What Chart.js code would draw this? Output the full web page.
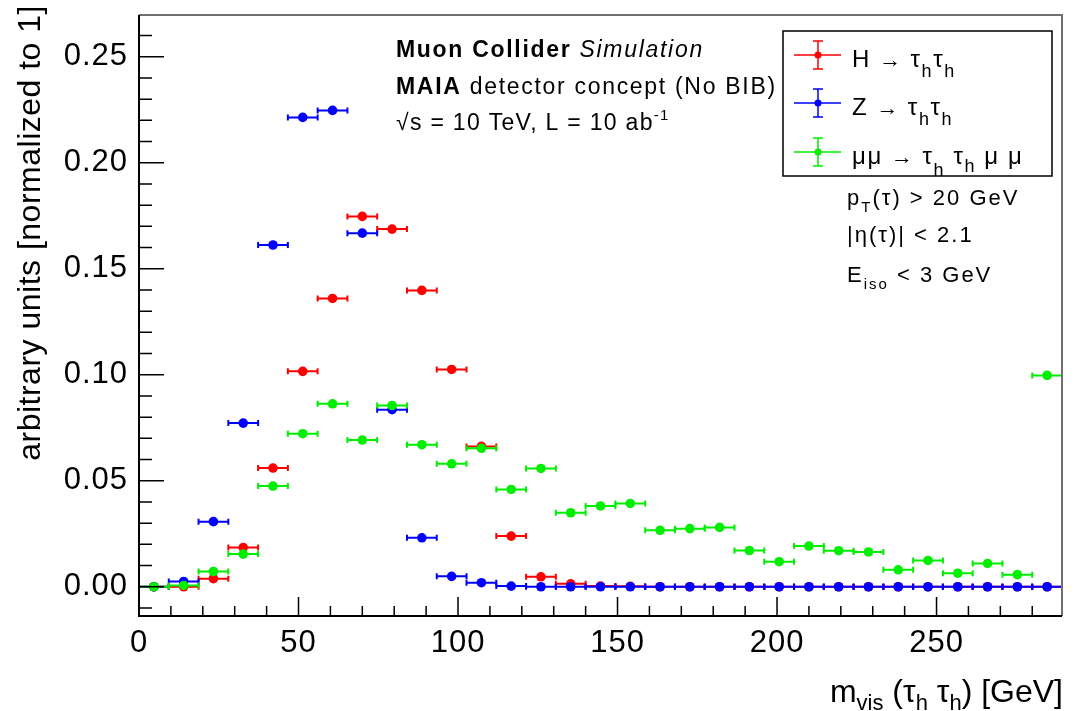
<!DOCTYPE html>
<html>
<head>
<meta charset="utf-8">
<script src="https://cdn.jsdelivr.net/npm/chart.js@4.4.1/dist/chart.umd.min.js"></script>
<style>
  html, body { margin: 0; padding: 0; background: #ffffff; }
  #wrap { width: 1079px; height: 711px; position: relative; }
</style>
</head>
<body>
<div id="wrap"><canvas id="grafico"></canvas></div>
<script>
// bin centres of the m_vis histogram [GeV]
const binCenters = [4.67, 14.00, 23.33, 32.67, 42.00, 51.33, 60.67, 70.00, 79.33, 88.67,
  98.00, 107.33, 116.67, 126.00, 135.33, 144.67, 154.00, 163.33, 172.67, 182.00,
  191.33, 200.67, 210.00, 219.33, 228.67, 238.00, 247.33, 256.67, 266.00, 275.33, 284.67];
const binHalfWidth = 4.667;

const valoresH = [0, 0, 0.0038, 0.0185, 0.0560, 0.1016, 0.1360, 0.1747, 0.1687, 0.1398,
  0.1025, 0.0662, 0.0239, 0.0047, 0.0014, 0.0003, 0.0002, 0, 0, 0,
  0, 0, 0, 0, 0, 0, 0, 0, 0, 0, 0];
const valoresZ = [0, 0.0025, 0.0307, 0.0772, 0.1612, 0.2214, 0.2247, 0.1668, 0.0835, 0.0231,
  0.0049, 0.0019, 0.0003, 0, 0, 0, 0, 0, 0, 0,
  0, 0, 0, 0, 0, 0, 0, 0, 0, 0, 0];
const valoresMuMu = [0, 0.0006, 0.0072, 0.0154, 0.0475, 0.0722, 0.0863, 0.0692, 0.0855, 0.0670,
  0.0580, 0.0653, 0.0459, 0.0558, 0.0349, 0.0381, 0.0393, 0.0266, 0.0274, 0.0280,
  0.0171, 0.0118, 0.0192, 0.0170, 0.0164, 0.0080, 0.0124, 0.0064, 0.0110, 0.0057, 0.0997];

const xTicks = [0, 50, 100, 150, 200, 250];
const yTicks = [0, 0.05, 0.10, 0.15, 0.20, 0.25];
const colores = ["#ff0000", "#0000ff", "#00ee00"];

const FAM = "'Liberation Sans', Arial, sans-serif";

function puntos(vals) {
  return binCenters.map((x, i) => ({ x: x, y: vals[i] }));
}

// draws a line of text made of pieces (sub/superscripts, bold, italic)
function textoRico(ctx, x, y, partes, align, ls) {
  ctx.letterSpacing = (ls || 0) + "px";
  let total = 0;
  partes.forEach(p => {
    ctx.font = (p.st || "") + " " + p.sz + "px " + FAM;
    total += ctx.measureText(p.t).width;
  });
  let cx = align === "right" ? x - total : x;
  ctx.textAlign = "left";
  ctx.textBaseline = "alphabetic";
  partes.forEach(p => {
    ctx.font = (p.st || "") + " " + p.sz + "px " + FAM;
    ctx.fillText(p.t, cx, y + (p.dy || 0));
    cx += ctx.measureText(p.t).width;
  });
}

const barrasError = {
  id: "barrasError",
  beforeDatasetDraw(chart, args) {
    const ctx = chart.ctx;
    const ds = chart.data.datasets[args.index];
    const xs = chart.scales.x, ys = chart.scales.y;
    const a = chart.chartArea;
    ctx.save();
    ctx.beginPath();
    ctx.rect(a.left, a.top, a.right - a.left, a.bottom - a.top);
    ctx.clip();
    ctx.strokeStyle = ds.backgroundColor;
    ctx.lineWidth = 2;
    ds.data.forEach(p => {
      const x1 = xs.getPixelForValue(p.x - binHalfWidth);
      const x2 = xs.getPixelForValue(p.x + binHalfWidth);
      const y = ys.getPixelForValue(p.y);
      ctx.beginPath();
      ctx.moveTo(x1, y); ctx.lineTo(x2, y);
      ctx.moveTo(x1, y - 3); ctx.lineTo(x1, y + 3);
      ctx.moveTo(x2, y - 3); ctx.lineTo(x2, y + 3);
      ctx.stroke();
    });
    ctx.restore();
  }
};

const marco = {
  id: "marco",
  beforeDraw(chart) {
    chart.ctx.letterSpacing = "1px";
  },
  afterDraw(chart) {
    const ctx = chart.ctx;
    const a = chart.chartArea;
    const xs = chart.scales.x, ys = chart.scales.y;
    ctx.save();

    // frame
    ctx.lineWidth = 2;
    ctx.strokeStyle = "#707070";
    ctx.beginPath();
    ctx.moveTo(a.left, a.top); ctx.lineTo(a.right, a.top); ctx.lineTo(a.right, a.bottom);
    ctx.stroke();
    ctx.strokeStyle = "#000000";
    ctx.beginPath();
    ctx.moveTo(a.left, a.top); ctx.lineTo(a.left, a.bottom); ctx.lineTo(a.right, a.bottom);
    ctx.stroke();

    // inward ticks
    ctx.lineWidth = 1.5;
    ctx.beginPath();
    for (let v = 0; v <= 285; v += 10) {
      const px = xs.getPixelForValue(v);
      const len = v % 50 === 0 ? 19 : 10;
      ctx.moveTo(px, a.bottom); ctx.lineTo(px, a.bottom - len);
    }
    for (let k = -1; k <= 26; k++) {
      const py = ys.getPixelForValue(k / 100);
      const len = k % 5 === 0 ? 25 : 13;
      ctx.moveTo(a.left, py); ctx.lineTo(a.left + len, py);
    }
    ctx.stroke();

    ctx.fillStyle = "#000000";

    // axis titles
    textoRico(ctx, 1063, 702, [
      { t: "m", sz: 32 }, { t: "vis", sz: 22, dy: 8 },
      { t: " (τ", sz: 32 }, { t: "h", sz: 22, dy: 8 },
      { t: " τ", sz: 32 }, { t: "h", sz: 22, dy: 8 },
      { t: ") [GeV]", sz: 32 }
    ], "right", 0);
    ctx.save();
    ctx.translate(40, 5);
    ctx.rotate(-Math.PI / 2);
    textoRico(ctx, 0, 0, [{ t: "arbitrary units [normalized to 1]", sz: 32 }], "right", 0.5);
    ctx.restore();

    // labels
    textoRico(ctx, 396, 57, [
      { t: "Muon Collider ", sz: 23, st: "bold" }, { t: "Simulation", sz: 23, st: "italic" }
    ], "left", 1.7);
    textoRico(ctx, 396, 94, [
      { t: "MAIA", sz: 23, st: "bold" }, { t: " detector concept (No BIB)", sz: 23 }
    ], "left", 1.7);
    textoRico(ctx, 396, 130, [
      { t: "√s = 10 TeV, L = 10 ab", sz: 23 }, { t: "-1", sz: 15, dy: -10 }
    ], "left", 1.3);

    textoRico(ctx, 847, 205, [
      { t: "p", sz: 22 }, { t: "T", sz: 15, dy: 7 }, { t: "(τ) > 20 GeV", sz: 22 }
    ], "left", 2);
    textoRico(ctx, 847, 242, [{ t: "|η(τ)| < 2.1", sz: 22 }], "left", 2);
    textoRico(ctx, 847, 282, [
      { t: "E", sz: 22 }, { t: "iso", sz: 15, dy: 7 }, { t: " < 3 GeV", sz: 22 }
    ], "left", 2);

    // legend
    ctx.fillStyle = "#ffffff";
    ctx.fillRect(783, 31, 269, 145);
    ctx.strokeStyle = "#000000";
    ctx.lineWidth = 1.5;
    ctx.strokeRect(783, 31, 269, 145);
    const filas = [55, 103, 152];
    const textos = [
      [{ t: "H ", sz: 24 }, { t: "→ ", sz: 22 }, { t: "τ", sz: 24 }, { t: "h", sz: 18, dy: 10 }, { t: "τ", sz: 24 }, { t: "h", sz: 18, dy: 10 }],
      [{ t: "Z ", sz: 24 }, { t: "→ ", sz: 22 }, { t: "τ", sz: 24 }, { t: "h", sz: 18, dy: 10 }, { t: "τ", sz: 24 }, { t: "h", sz: 18, dy: 10 }],
      [{ t: "μμ ", sz: 24 }, { t: "→ ", sz: 22 }, { t: "τ", sz: 24 }, { t: "h", sz: 18, dy: 12 }, { t: " τ", sz: 24 }, { t: "h", sz: 18, dy: 8 }, { t: " μ μ", sz: 24 }]
    ];
    filas.forEach((y, i) => {
      ctx.strokeStyle = colores[i];
      ctx.lineWidth = 1.5;
      ctx.beginPath();
      ctx.moveTo(794, y); ctx.lineTo(841, y);
      ctx.moveTo(818, y - 14); ctx.lineTo(818, y + 14);
      ctx.moveTo(813, y - 14); ctx.lineTo(823, y - 14);
      ctx.moveTo(813, y + 14); ctx.lineTo(823, y + 14);
      ctx.stroke();
      ctx.fillStyle = colores[i];
      ctx.beginPath();
      ctx.arc(818, y, 3.5, 0, Math.PI * 2);
      ctx.fill();
      ctx.fillStyle = "#000000";
      textoRico(ctx, 852, y + 12, textos[i], "left", 1.6);
    });

    ctx.restore();
    ctx.letterSpacing = "0px";
  }
};

const ctx = document.getElementById("grafico");
const grafico = new Chart(ctx, {
  type: "scatter",
  data: {
    datasets: [
      { label: "H", data: puntos(valoresH), backgroundColor: colores[0], order: 3 },
      { label: "Z", data: puntos(valoresZ), backgroundColor: colores[1], order: 2 },
      { label: "mumu", data: puntos(valoresMuMu), backgroundColor: colores[2], order: 1 }
    ]
  },
  options: {
    responsive: true,
    maintainAspectRatio: false,
    animation: false,
    elements: { point: { radius: 4.8, borderWidth: 0, hoverRadius: 4.8 } },
    layout: { padding: { left: 0, right: 17, top: 15, bottom: 0 } },
    plugins: { legend: { display: false }, tooltip: { enabled: false } },
    scales: {
      x: {
        type: "linear",
        min: 0,
        max: 289.33,
        grid: { display: false, drawTicks: false },
        border: { display: false },
        ticks: { color: "#000", font: { family: FAM, size: 31 }, padding: 9, callback: v => String(v) },
        afterBuildTicks: s => { s.ticks = xTicks.map(v => ({ value: v })); },
        afterFit: s => { s.height = 95; s.paddingLeft = 0; s.paddingRight = 0; }
      },
      y: {
        type: "linear",
        min: -0.0138,
        max: 0.2697,
        grid: { display: false, drawTicks: false },
        border: { display: false },
        ticks: { color: "#000", font: { family: FAM, size: 31 }, padding: 11, callback: v => v.toFixed(2) },
        afterBuildTicks: s => { s.ticks = yTicks.map(v => ({ value: v })); },
        afterFit: s => { s.width = 139; s.paddingTop = 0; s.paddingBottom = 0; }
      }
    }
  },
  plugins: [barrasError, marco]
});
</script>
</body>
</html>
